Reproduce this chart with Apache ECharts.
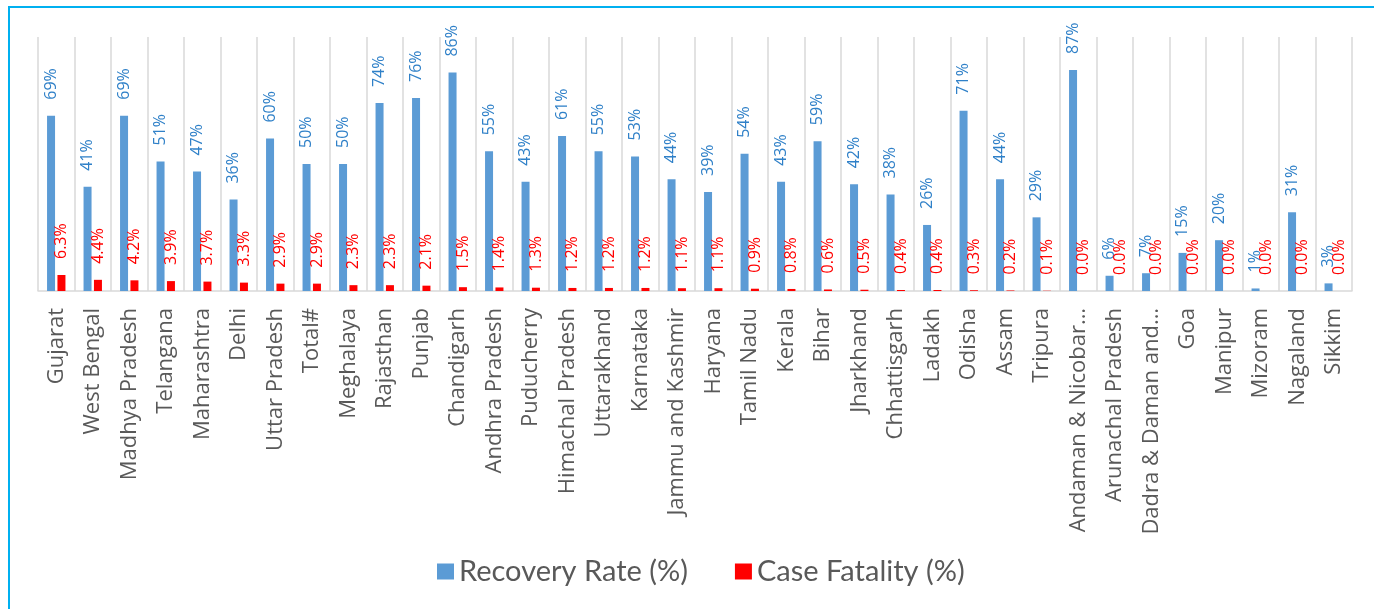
<!DOCTYPE html>
<html>
<head>
<meta charset="utf-8">
<script src="https://cdn.jsdelivr.net/npm/echarts@6/dist/echarts.min.js"></script>
<style>
  html, body { margin: 0; padding: 0; background: #fff; }
  #main { width: 1374px; height: 609px; }
</style>
</head>
<body>
<div id="main"></div>
<script>
// states / UTs as shown on the axis
var states = [
  'Gujarat', 'West Bengal', 'Madhya Pradesh', 'Telangana', 'Maharashtra', 'Delhi',
  'Uttar Pradesh', 'Total#', 'Meghalaya', 'Rajasthan', 'Punjab', 'Chandigarh',
  'Andhra Pradesh', 'Puducherry', 'Himachal Pradesh', 'Uttarakhand', 'Karnataka',
  'Jammu and Kashmir', 'Haryana', 'Tamil Nadu', 'Kerala', 'Bihar', 'Jharkhand',
  'Chhattisgarh', 'Ladakh', 'Odisha', 'Assam', 'Tripura', 'Andaman & Nicobar…',
  'Arunachal Pradesh', 'Dadra & Daman and…', 'Goa', 'Manipur', 'Mizoram',
  'Nagaland', 'Sikkim'
]

var recoveryRate = [
  69, 41, 69, 51, 47, 36, 60, 50, 50, 74, 76, 86, 55, 43, 61, 55, 53, 44,
  39, 54, 43, 59, 42, 38, 26, 71, 44, 29, 87, 6, 7, 15, 20, 1, 31, 3
]

var caseFatality = [
  6.3, 4.4, 4.2, 3.9, 3.7, 3.3, 2.9, 2.9, 2.3, 2.3, 2.1, 1.5, 1.4, 1.3, 1.2, 1.2, 1.2, 1.1,
  1.1, 0.9, 0.8, 0.6, 0.5, 0.4, 0.4, 0.3, 0.2, 0.1, 0.0, 0.0, 0.0, 0.0, 0.0, 0.0, 0.0, 0.0
]

var myChart = echarts.init(document.getElementById('main'))

var option = {
  animation: false,
  graphic: [
    {
      type: 'rect',
      shape: { x: 9, y: 7, width: 1500, height: 800 },
      style: { fill: 'none', stroke: '#00B0F0', lineWidth: 2 }
    }
  ],
  legend: {
    left: 432,
    top: 552,
    icon: 'rect',
    itemWidth: 17,
    itemHeight: 16,
    itemGap: 47,
    textStyle: {
      fontFamily: 'Lato',
      fontSize: 29,
      color: '#595959'
    },
    data: ['Recovery Rate (%)', 'Case Fatality (%)']
  },
  grid: {
    left: 38,
    right: 22,
    top: 37,
    bottom: 318
  },
  xAxis: {
    type: 'category',
    data: states,
    axisLine: { lineStyle: { color: '#d9d9d9', width: 1.5 } },
    axisTick: { show: false },
    splitLine: { show: true, lineStyle: { color: '#d9d9d9', width: 1.5 } },
    axisLabel: {
      interval: 0,
      rotate: 90,
      margin: 17,
      fontFamily: 'Open Sans, Noto Sans',
      fontSize: 22,
      color: '#595959'
    }
  },
  yAxis: {
    type: 'value',
    min: 0,
    max: 100,
    show: false
  },
  series: [
    {
      name: 'Recovery Rate (%)',
      type: 'bar',
      data: recoveryRate,
      barWidth: 8,
      barGap: '30%',
      itemStyle: { color: '#5B9BD5' },
      label: {
        show: true,
        position: 'top',
        distance: 16,
        rotate: 90,
        align: 'left',
        verticalAlign: 'middle',
        fontFamily: 'Open Sans, Noto Sans',
        fontSize: 16,
        color: '#2F80C8',
        formatter: function (p) { return p.value + '%' }
      }
    },
    {
      name: 'Case Fatality (%)',
      type: 'bar',
      data: caseFatality,
      barWidth: 8,
      itemStyle: { color: '#FF0000' },
      label: {
        show: true,
        position: 'top',
        distance: 16,
        rotate: 90,
        align: 'left',
        verticalAlign: 'middle',
        fontFamily: 'Open Sans, Noto Sans',
        fontSize: 16,
        color: '#FF0000',
        formatter: function (p) { return p.value.toFixed(1) + '%' }
      }
    }
  ]
}

myChart.setOption(option)
</script>
</body>
</html>
